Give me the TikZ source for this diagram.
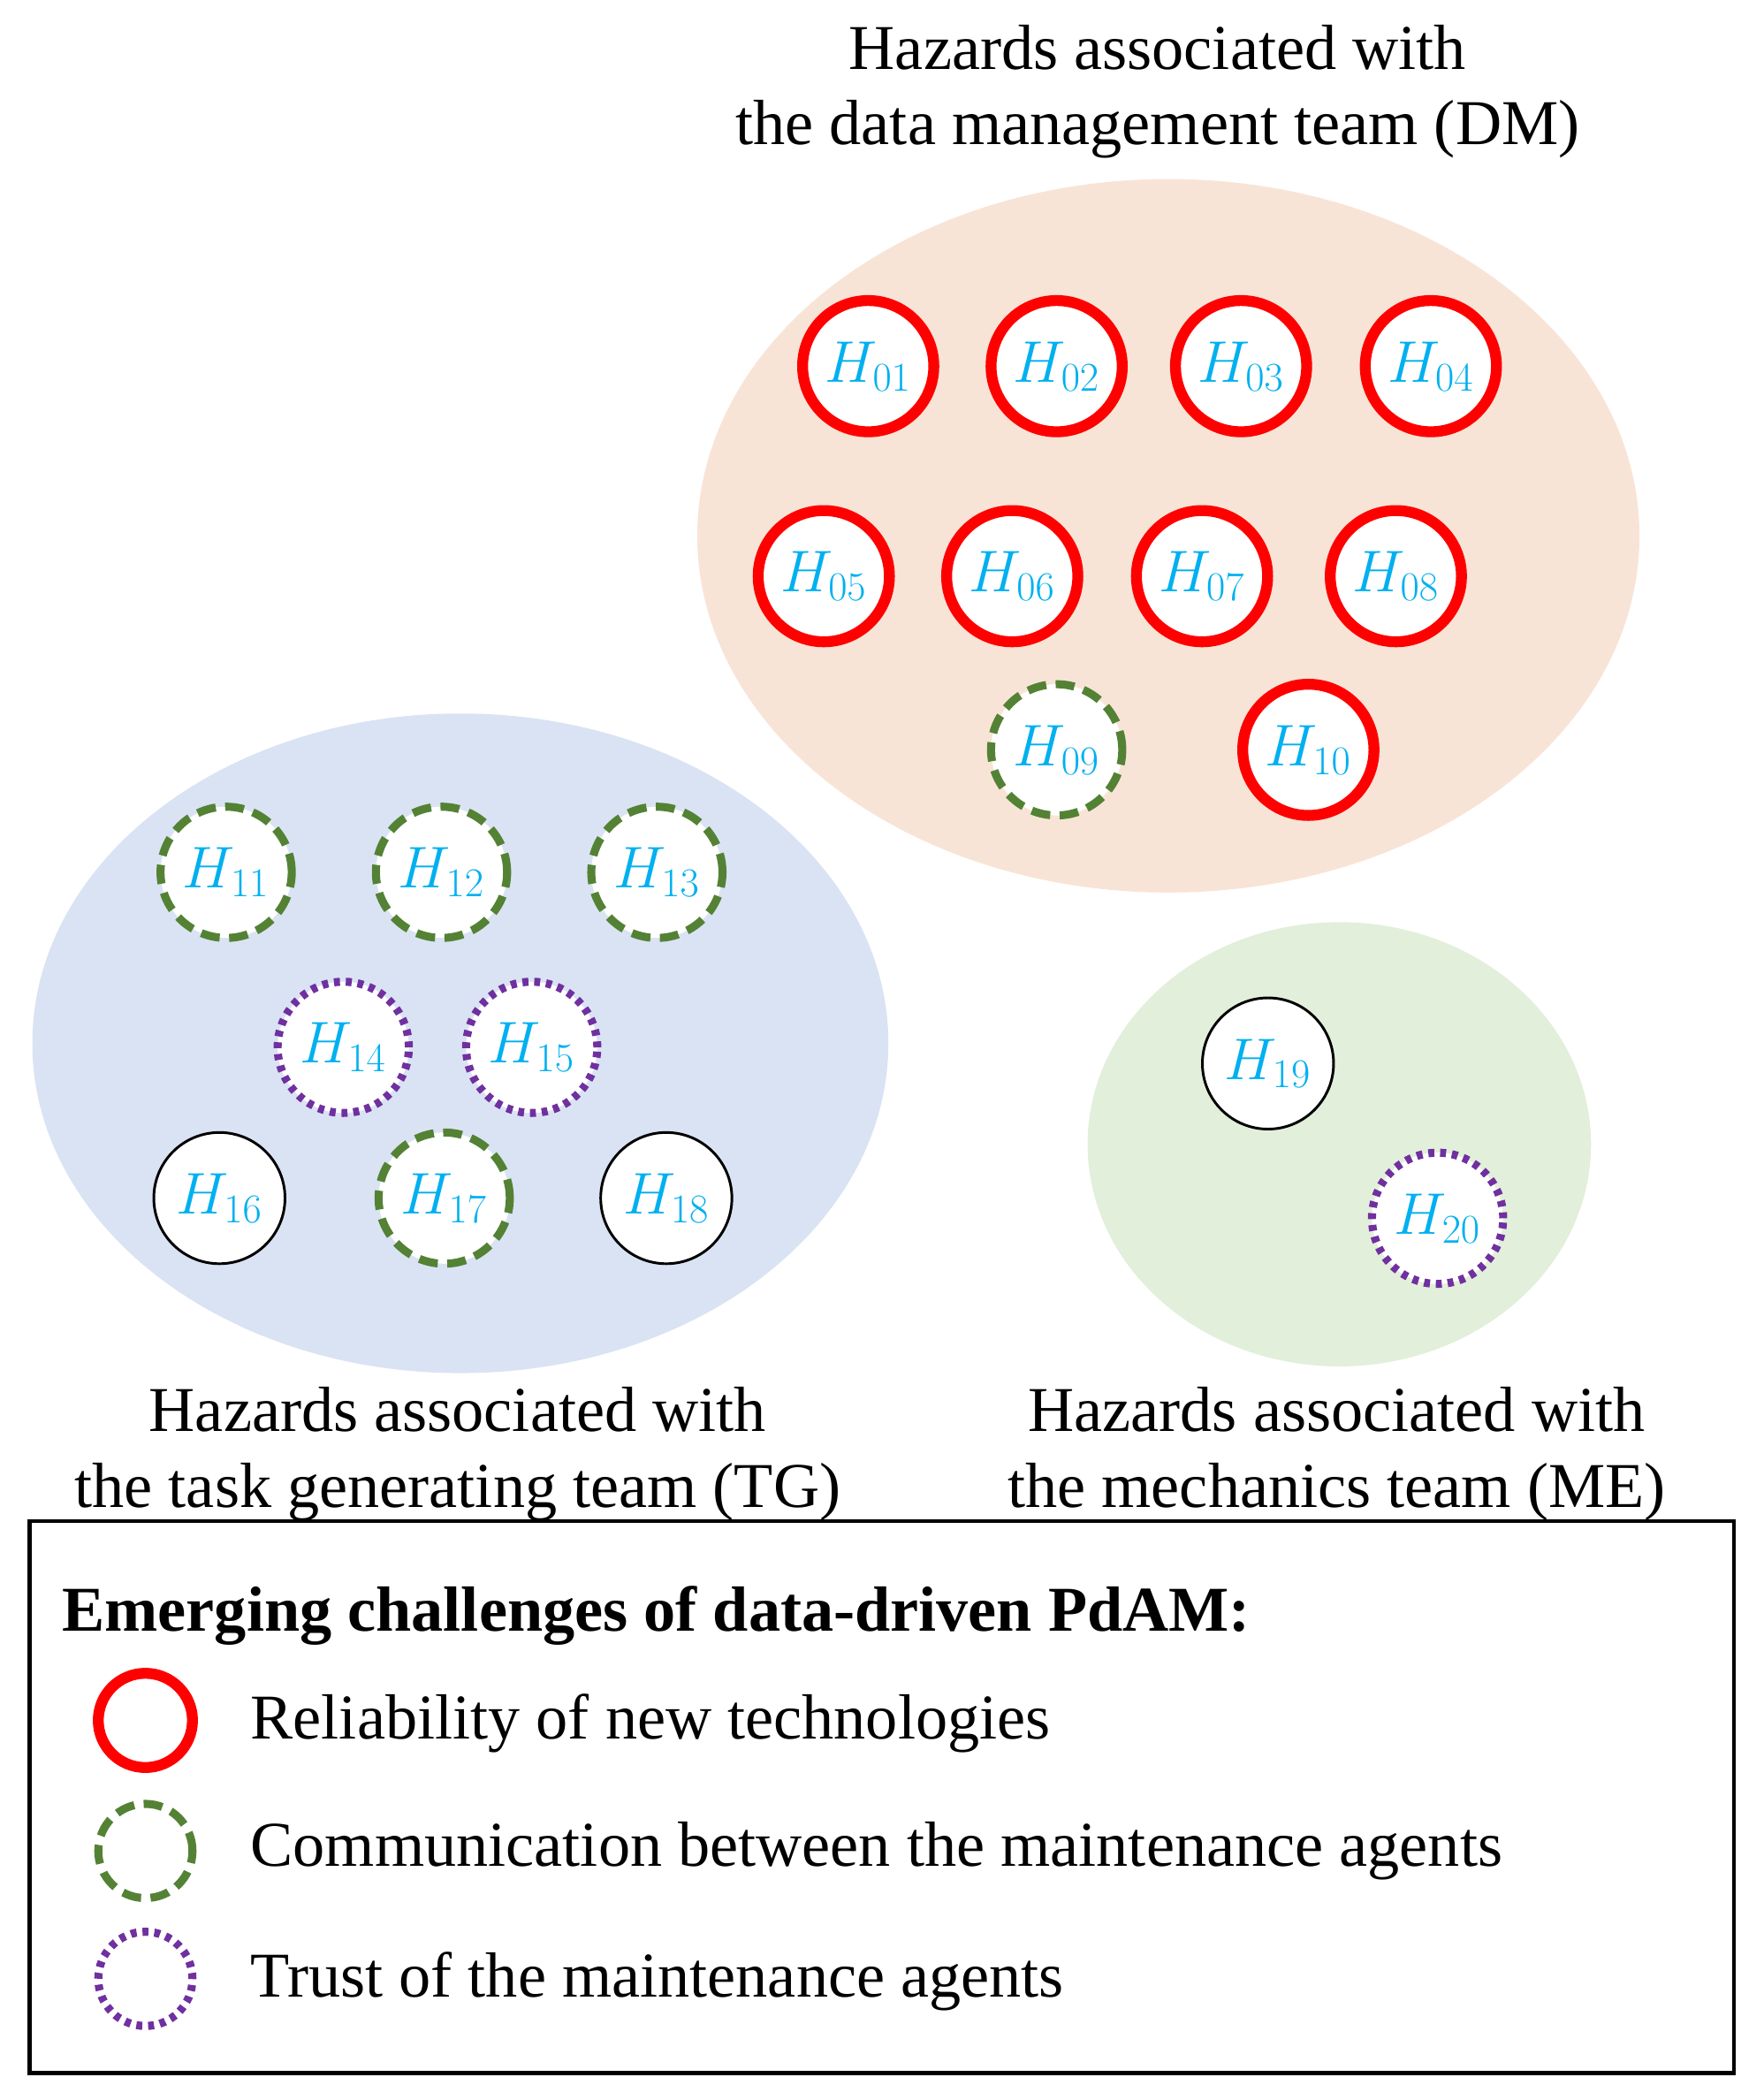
\documentclass[tikz,border=0pt]{standalone}
\usepackage{fontspec}
\setmainfont{Liberation Serif}
\definecolor{hcyan}{RGB}{0,176,240}
\definecolor{hgreen}{RGB}{84,130,53}
\definecolor{hviolet}{RGB}{112,48,160}
\begin{document}
\begin{tikzpicture}[x=0.02cm,y=-0.02cm,
  hz/.style={circle,minimum size=1.95cm,inner sep=0pt,fill=white,text=hcyan,font=\fontsize{27}{29}\selectfont},
  rel/.style={hz,draw=red,line width=4.6pt},
  com/.style={hz,draw=hgreen,line width=3.4pt,dash pattern=on 8pt off 4pt},
  tru/.style={hz,draw=hviolet,line width=3.4pt,dash pattern=on 2.5pt off 2.5pt},
  non/.style={hz,draw=black,line width=1.1pt},
  ttl/.style={font=\fontsize{27}{32}\selectfont,align=center}]
\useasboundingbox (0,0) rectangle (1310,1560);
\fill[fill={rgb,255:red,248;green,228;blue,214}] (868,398) ellipse (350 and 265);
\fill[fill={rgb,255:red,218;green,227;blue,243}] (342,775) ellipse (318 and 245);
\fill[fill={rgb,255:red,226;green,239;blue,218}] (995,850) ellipse (187 and 165);
\node[rel] (h01) at (645,272) {$H_{01}$};
\node[rel] (h02) at (785,272) {$H_{02}$};
\node[rel] (h03) at (922,272) {$H_{03}$};
\node[rel] (h04) at (1063,272) {$H_{04}$};
\node[rel] (h05) at (612,428) {$H_{05}$};
\node[rel] (h06) at (752,428) {$H_{06}$};
\node[rel] (h07) at (893,428) {$H_{07}$};
\node[rel] (h08) at (1037,428) {$H_{08}$};
\node[com] (h09) at (785,557) {$H_{09}$};
\node[rel] (h10) at (972,557) {$H_{10}$};
\node[com] (h11) at (168,648) {$H_{11}$};
\node[com] (h12) at (328,648) {$H_{12}$};
\node[com] (h13) at (488,648) {$H_{13}$};
\node[tru] (h14) at (255,778) {$H_{14}$};
\node[tru] (h15) at (395,778) {$H_{15}$};
\node[non] (h16) at (163,890) {$H_{16}$};
\node[com] (h17) at (330,890) {$H_{17}$};
\node[non] (h18) at (495,890) {$H_{18}$};
\node[non] (h19) at (942,790) {$H_{19}$};
\node[tru] (h20) at (1068,905) {$H_{20}$};
\node[ttl] (tdm) at (860,68) {Hazards associated with\\the data management team (DM)};
\node[ttl] (ttg) at (340,1080) {Hazards associated with\\the task generating team (TG)};
\node[ttl] (tme) at (993,1080) {Hazards associated with\\the mechanics team (ME)};
\draw[line width=1.6pt] (22,1130) rectangle (1288,1540);
\node[anchor=west,font=\fontsize{27}{30}\selectfont\bfseries] (lt) at (40,1200) {Emerging challenges of data-driven PdAM:};
\node[rel,minimum size=1.4cm] (l1) at (108,1278) {};
\node[com,minimum size=1.4cm] (l2) at (108,1375) {};
\node[tru,minimum size=1.4cm] (l3) at (108,1470) {};
\node[anchor=west,font=\fontsize{27}{30}\selectfont] (t1) at (180,1280) {Reliability of new technologies};
\node[anchor=west,font=\fontsize{27}{30}\selectfont] (t2) at (180,1375) {Communication between the maintenance agents};
\node[anchor=west,font=\fontsize{27}{30}\selectfont] (t3) at (180,1472) {Trust of the maintenance agents};
\end{tikzpicture}
\end{document}
